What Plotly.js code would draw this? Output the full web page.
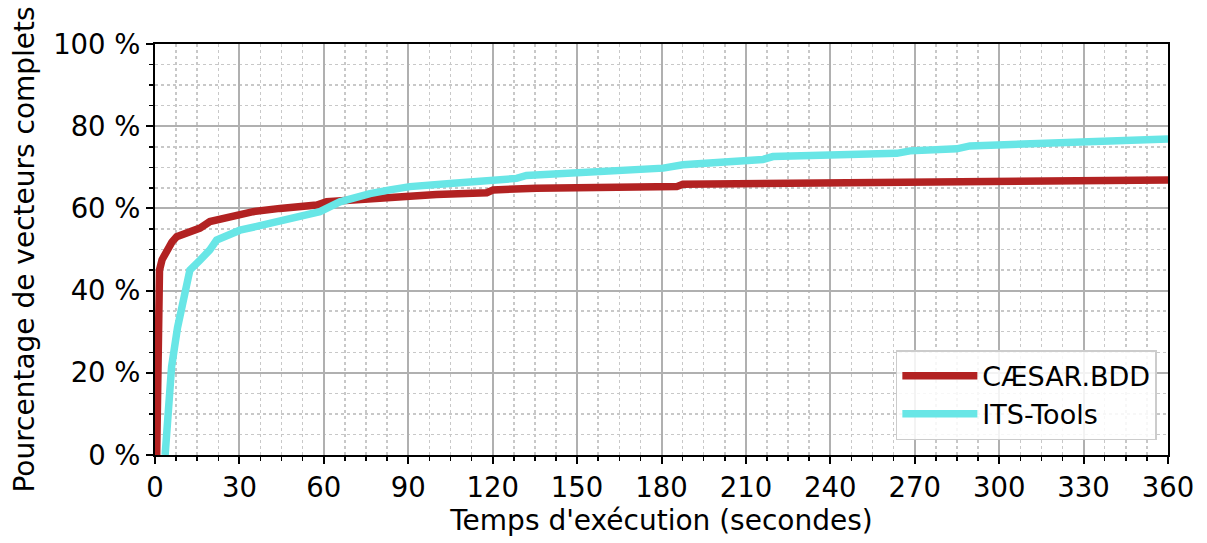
<!DOCTYPE html>
<html>
<head>
<meta charset="utf-8">
<script src="https://cdn.plot.ly/plotly-3.0.1.min.js"></script>
<style>html,body{margin:0;padding:0;background:#fff;}#chart{width:1207px;height:543px;}</style>
</head>
<body>
<div id="chart"></div>
<script>
const seriesNames = ["CÆSAR.BDD", "ITS-Tools"];
const caesarT = [0.6, 1.2, 1.6, 2.5, 4.1, 6, 7.7, 10, 12.4, 14, 16, 19.5, 23, 29, 30, 34.9, 44.4, 50, 57.5, 61, 70, 76.4, 82.3, 88.2, 100, 117.9, 120.2, 135.6, 159.3, 168.8, 185.4, 187.6, 216, 230.3, 261.2, 279, 296.7, 316.9, 340, 360];
const caesarY = [0, 40, 45, 47.5, 49.9, 51.8, 53.1, 53.6, 54, 54.3, 55.2, 56.8, 57.4, 58.2, 58.4, 59.2, 60, 60.3, 60.8, 61.6, 62, 62.2, 62.4, 63.1, 63.4, 63.8, 64.5, 64.9, 65.1, 65.1, 65.3, 65.9, 66.1, 66.4, 66.4, 66.5, 66.8, 66.9, 66.9, 66.9];
const itsT = [3.6, 5.9, 8, 10, 12.4, 16, 19.5, 21.9, 26.7, 30.2, 37.3, 44.4, 52.7, 58.6, 65.7, 71.7, 76.4, 83.5, 90.6, 106, 117.9, 128.5, 132, 149.9, 171, 180.6, 187.6, 198.3, 216, 219.6, 239.9, 263.6, 268.3, 284.9, 289.6, 311, 332.3, 344, 360];
const itsY = [0, 21.5, 31, 38.5, 45, 47.4, 49.9, 52.3, 53.5, 54.7, 55.8, 56.8, 58, 59.2, 61.6, 62.9, 63.6, 64.5, 65.3, 66.1, 66.8, 67.3, 68, 68.8, 69.3, 69.8, 70.6, 71.2, 71.9, 72.6, 73.0, 73.4, 74.0, 74.5, 75.2, 75.8, 76.1, 76.5, 76.9];
const xTitle = "Temps d'exécution (secondes)";
const yTitle = "Pourcentage de vecteurs complets";

const font = "DejaVu Sans, sans-serif";
const traces = [
  {x: caesarT, y: caesarY, name: seriesNames[0], mode: "lines", line: {color: "#b22222", width: 7.5}},
  {x: itsT, y: itsY, name: seriesNames[1], mode: "lines", line: {color: "#68e6e6", width: 7.5}}
];
const axisCommon = {
  showline: true, mirror: true, linecolor: "#000", linewidth: 2,
  ticks: "outside", ticklen: 7, tickwidth: 2, tickcolor: "#000",
  showgrid: true, gridcolor: "#b0b0b0", gridwidth: 2,
  zeroline: false,
  tickfont: {family: font, size: 27.5, color: "#000"}
};
const layout = {
  width: 1207, height: 543,
  margin: {l: 155, r: 39, t: 44, b: 88},
  paper_bgcolor: "#fff", plot_bgcolor: "#fff",
  font: {family: font, color: "#000"},
  showlegend: true,
  xaxis: Object.assign({}, axisCommon, {
    range: [0, 360], dtick: 30, tick0: 0,
    title: {text: xTitle, font: {family: font, size: 28}, standoff: 8},
    minor: {dtick: 7.5, ticks: "outside", ticklen: 4, tickwidth: 1.5, tickcolor: "#000", showgrid: true, gridcolor: "#c8c8c8", griddash: "dot", gridwidth: 1.5}
  }),
  yaxis: Object.assign({}, axisCommon, {
    range: [0, 100], dtick: 20, tick0: 0, ticksuffix: " %",
    title: {text: yTitle, font: {family: font, size: 28}, standoff: 10},
    minor: {dtick: 5, ticks: "outside", ticklen: 4, tickwidth: 1.5, tickcolor: "#000", showgrid: true, gridcolor: "#c8c8c8", griddash: "dot", gridwidth: 1.5}
  }),
  legend: {
    x: 0.989, y: 0.036, xanchor: "right", yanchor: "bottom",
    bgcolor: "rgba(255,255,255,0.85)", bordercolor: "#cccccc", borderwidth: 1.5,
    font: {family: font, size: 27, color: "#000"},
    itemwidth: 75, tracegroupgap: 4
  }
};
Plotly.newPlot("chart", traces, layout, {displayModeBar: false, staticPlot: true});
</script>
</body>
</html>
